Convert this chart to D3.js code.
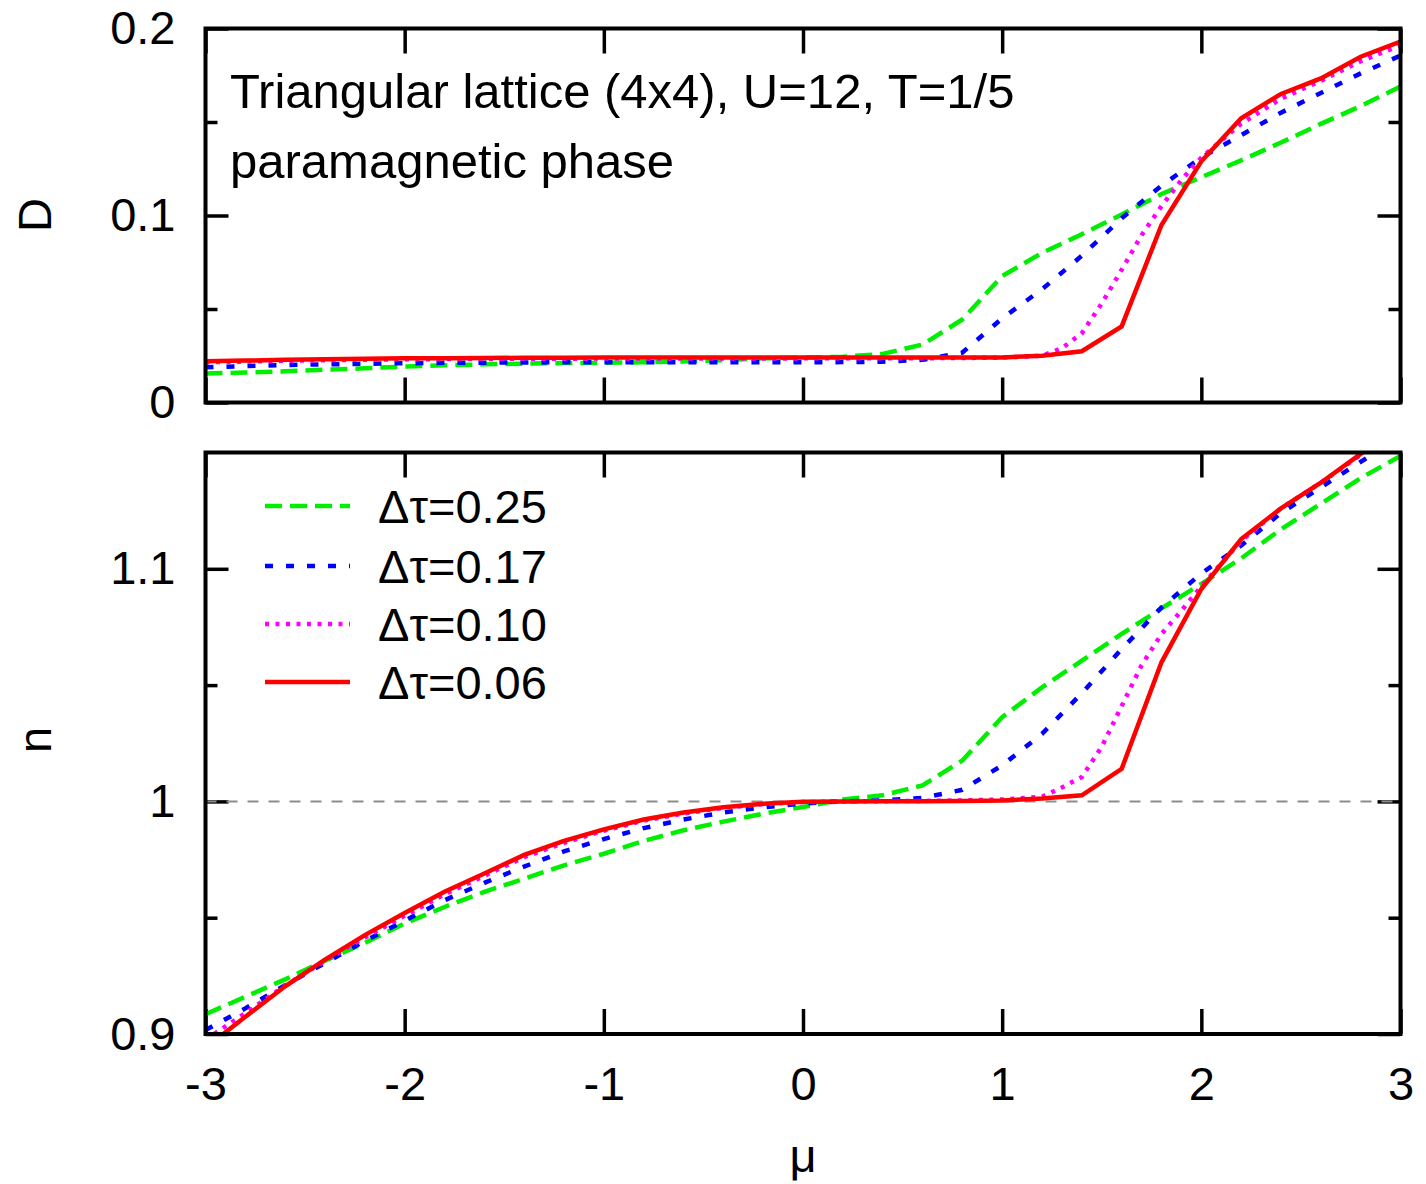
<!DOCTYPE html>
<html>
<head>
<meta charset="utf-8">
<script src="https://cdn.jsdelivr.net/npm/d3@7"></script>
<style>
  html, body { margin: 0; padding: 0; background: #ffffff; }
  svg { display: block; }
  text { font-family: "Liberation Sans", Arial, Helvetica, sans-serif; fill: #000; }
</style>
</head>
<body>
<svg id="chart" width="1426" height="1184"></svg>
<script>
// ---------------- data ----------------
const mu = [-3.0,-2.8,-2.6,-2.4,-2.2,-2.0,-1.8,-1.6,-1.4,-1.2,-1.0,-0.8,-0.6,-0.4,-0.2,0.0,
            0.2,0.4,0.6,0.8,1.0,1.2,1.4,1.6,1.8,2.0,2.2,2.4,2.6,2.8,3.0];
// finer sampling used by the dtau=0.10 run
const muMag = [-3.0,-2.8,-2.6,-2.4,-2.2,-2.0,-1.8,-1.6,-1.4,-1.2,-1.0,-0.8,-0.6,-0.4,-0.2,0.0,
            0.2,0.4,0.6,0.8,1.0,1.2,1.3,1.4,1.5,1.6,1.7,1.8,1.9,2.0,2.2,2.4,2.6,2.8,3.0];

// double occupancy D
const D_025 = [0.0155,0.0160,0.0167,0.0175,0.0183,0.0192,0.0199,0.0204,0.0208,0.0211,0.0213,0.0215,0.0219,0.0226,0.0236,0.0240,
               0.0245,0.0260,0.0310,0.0444,0.0676,0.0800,0.0900,0.1005,0.1115,0.1205,0.1295,0.1390,0.1490,0.1585,0.1690];
const D_017 = [0.0188,0.0195,0.0200,0.0204,0.0207,0.0210,0.0212,0.0213,0.0214,0.0215,0.0215,0.0215,0.0215,0.0215,0.0215,0.0215,
               0.0216,0.0218,0.0228,0.0267,0.0450,0.0605,0.0785,0.0985,0.1160,0.1310,0.1430,0.1550,0.1655,0.1760,0.1855];
const D_010 = [0.0215,0.0219,0.0223,0.0226,0.0229,0.0231,0.0232,0.0233,0.0234,0.0234,0.0235,0.0235,0.0235,0.0235,0.0235,0.0236,
               0.0236,0.0236,0.0237,0.0238,0.0240,0.0250,0.0290,0.0370,0.0530,0.0710,0.0895,0.1050,0.1190,0.1310,0.1490,0.1625,0.1720,0.1825,0.1910];
const D_006 = [0.0220,0.0224,0.0228,0.0231,0.0234,0.0236,0.0237,0.0238,0.0239,0.0239,0.0240,0.0240,0.0240,0.0240,0.0240,0.0240,
               0.0240,0.0240,0.0240,0.0240,0.0241,0.0250,0.0274,0.0407,0.0949,0.1290,0.1520,0.1650,0.1733,0.1849,0.1930];

// density n
const n_025 = [0.9085,0.9160,0.9235,0.9315,0.9392,0.9475,0.9546,0.9611,0.9668,0.9725,0.9775,0.9830,0.9876,0.9913,0.9947,0.9976,
               1.0008,1.0026,1.0069,1.0176,1.0362,1.0490,1.0605,1.0720,1.0830,1.0935,1.1045,1.1170,1.1280,1.1390,1.1485];
const n_017 = [0.9017,0.9110,0.9210,0.9305,0.9400,0.9487,0.9575,0.9650,0.9720,0.9785,0.9838,0.9885,0.9922,0.9952,0.9975,0.9991,
               1.0000,1.0004,1.0015,1.0050,1.0155,1.0290,1.0465,1.0655,1.0834,1.0980,1.1100,1.1240,1.1350,1.1460,1.1570];
const n_010 = [0.8975,0.9090,0.9208,0.9315,0.9415,0.9508,0.9600,0.9680,0.9760,0.9822,0.9874,0.9917,0.9948,0.9972,0.9988,0.9997,
               1.0000,1.0001,1.0002,1.0004,1.0008,1.0020,1.0060,1.0105,1.0235,1.0410,1.0585,1.0720,1.0820,1.0925,1.1120,1.1260,1.1370,1.1490,1.1610];
const n_006 = [0.8940,0.9074,0.9205,0.9320,0.9425,0.9520,0.9612,0.9690,0.9770,0.9830,0.9880,0.9922,0.9952,0.9975,0.9990,0.9998,
               1.0000,1.0001,1.0001,1.0002,1.0004,1.0012,1.0026,1.0140,1.0598,1.0913,1.1128,1.1260,1.1370,1.1494,1.1620];

const seriesLabels = ["\u0394\u03c4=0.25", "\u0394\u03c4=0.17", "\u0394\u03c4=0.10", "\u0394\u03c4=0.06"];
const xTicks = [-3,-2,-1,0,1,2,3];
const xTickLabels = ["-3","-2","-1","0","1","2","3"];
const dMajor = [0, 0.1, 0.2];
const dMajorLabels = ["0", "0.1", "0.2"];
const dMinor = [0.05, 0.15];
const nMajor = [0.9, 1.0, 1.1];
const nMajorLabels = ["0.9", "1", "1.1"];
const nMinor = [0.95, 1.05];
const titleLines = ["Triangular lattice (4x4), U=12, T=1/5", "paramagnetic phase"];

// ---------------- styles ----------------
const styles = [
  { color: "#00ee00", dash: "17,8" },
  { color: "#0000ff", dash: "8,13" },
  { color: "#ff00ff", dash: "4,6.5" },
  { color: "#ff0000", dash: null }
];
const LW = 4.5;
const FONT = 47;

const svg = d3.select("#chart");
svg.append("rect").attr("width", 1426).attr("height", 1184).attr("fill", "#fff");

const X0 = 205.5, X1 = 1400.5;
const x = d3.scaleLinear().domain([-3, 3]).range([X0, X1]);
const yD = d3.scaleLinear().domain([0, 0.2]).range([402.5, 28.5]);
const yN = d3.scaleLinear().domain([0.9, 1.15]).range([1034, 452.5]);

function panel(id, y, major, majorLabels, minor, showXLabels) {
  const g = svg.append("g");
  const [yb, yt] = y.range();
  // clip
  svg.append("clipPath").attr("id", id).append("rect")
    .attr("x", X0).attr("y", yt).attr("width", X1 - X0).attr("height", yb - yt);

  const styleAxis = sel => {
    sel.select(".domain").remove();
    sel.selectAll("line").attr("stroke", "#000").attr("stroke-width", 3.5);
    sel.selectAll("text").attr("font-size", FONT).attr("font-family", "Liberation Sans, Arial, sans-serif").attr("fill", "#000");
  };
  // left
  g.append("g").attr("transform", `translate(${X0},0)`)
    .call(d3.axisLeft(y).tickValues(major).tickSize(-23).tickPadding(30)
      .tickFormat((d, i) => majorLabels[i])).call(styleAxis);
  g.append("g").attr("transform", `translate(${X0},0)`)
    .call(d3.axisLeft(y).tickValues(minor).tickSize(-12).tickFormat("")).call(styleAxis);
  // right
  g.append("g").attr("transform", `translate(${X1},0)`)
    .call(d3.axisRight(y).tickValues(major).tickSize(-23).tickFormat("")).call(styleAxis);
  g.append("g").attr("transform", `translate(${X1},0)`)
    .call(d3.axisRight(y).tickValues(minor).tickSize(-12).tickFormat("")).call(styleAxis);
  // top
  g.append("g").attr("transform", `translate(0,${yt})`)
    .call(d3.axisTop(x).tickValues(xTicks).tickSize(-25).tickFormat("")).call(styleAxis);
  // bottom
  g.append("g").attr("transform", `translate(0,${yb})`)
    .call(d3.axisBottom(x).tickValues(xTicks).tickSize(-25).tickPadding(33)
      .tickFormat((d, i) => showXLabels ? xTickLabels[i] : "")).call(styleAxis);
  return g;
}

function drawLines(clipId, y, xs, ys) {
  const g = svg.append("g").attr("clip-path", `url(#${clipId})`);
  ys.forEach((vals, i) => {
    const st = styles[i];
    const pts = xs[i].map((m, j) => [m, vals[j]]);
    const line = d3.line().x(d => x(d[0])).y(d => y(d[1]));
    const p = g.append("path").datum(pts)
      .attr("d", line)
      .attr("fill", "none")
      .attr("stroke", st.color)
      .attr("stroke-width", LW)
      .attr("stroke-linejoin", "miter")
      .attr("stroke-linecap", "butt");
    if (st.dash) p.attr("stroke-dasharray", st.dash);
  });
}

// ---------- top panel (D) ----------
panel("clipD", yD, dMajor, dMajorLabels, dMinor, false);
drawLines("clipD", yD, [mu, mu, muMag, mu], [D_025, D_017, D_010, D_006]);

// ---------- bottom panel (n) ----------
panel("clipN", yN, nMajor, nMajorLabels, nMinor, true);
// reference line n = 1
svg.append("line")
  .attr("x1", X0).attr("x2", X1).attr("y1", yN(1)).attr("y2", yN(1))
  .attr("stroke", "#8c8c8c").attr("stroke-width", 2).attr("stroke-dasharray", "11,10");
drawLines("clipN", yN, [mu, mu, muMag, mu], [n_025, n_017, n_010, n_006]);

// frames
[[yD], [yN]].forEach(([y]) => {
  const [yb, yt] = y.range();
  svg.append("rect").attr("x", X0).attr("y", yt).attr("width", X1 - X0).attr("height", yb - yt)
    .attr("fill", "none").attr("stroke", "#000").attr("stroke-width", 4);
});

// title text
svg.append("text").attr("x", 230).attr("y", 108).attr("font-size", 49).text(titleLines[0]);
svg.append("text").attr("x", 230).attr("y", 178).attr("font-size", 49).text(titleLines[1]);

// legend
const legendY = [506, 566, 624, 682];
seriesLabels.forEach((lab, i) => {
  const st = styles[i];
  const l = svg.append("line").attr("x1", 265).attr("x2", 350)
    .attr("y1", legendY[i]).attr("y2", legendY[i])
    .attr("stroke", st.color).attr("stroke-width", LW);
  if (st.dash) l.attr("stroke-dasharray", st.dash);
  svg.append("text").attr("x", 378).attr("y", legendY[i] + 17).attr("font-size", FONT).text(lab);
});

// axis labels
svg.append("text").attr("transform", "translate(51,215) rotate(-90)")
  .attr("text-anchor", "middle").attr("font-size", FONT).text("D");
svg.append("text").attr("transform", "translate(51,740) rotate(-90)")
  .attr("text-anchor", "middle").attr("font-size", FONT).text("n");
svg.append("text").attr("x", 803).attr("y", 1172)
  .attr("text-anchor", "middle").attr("font-size", FONT).text("\u03bc");
</script>
</body>
</html>
